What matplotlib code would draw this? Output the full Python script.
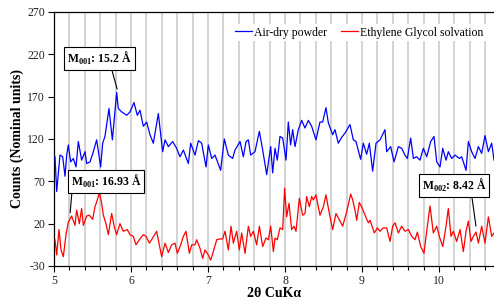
import numpy as np
import matplotlib
matplotlib.use("Agg")
import matplotlib.pyplot as plt
from matplotlib.ticker import MultipleLocator

plt.rcParams['font.family'] = ['Liberation Serif', 'DejaVu Serif']
plt.rcParams['mathtext.fontset'] = 'custom'
plt.rcParams['mathtext.rm'] = 'Liberation Serif'
plt.rcParams['mathtext.bf'] = 'Liberation Serif:bold'
plt.rcParams['axes.unicode_minus'] = False

# Air-dry powder (blue)
air_x = [5.013, 5.035, 5.078, 5.113, 5.143, 5.165, 5.186, 5.216, 5.251, 5.286,
         5.316, 5.359, 5.403, 5.424, 5.468, 5.511, 5.554, 5.606, 5.632, 5.662,
         5.714, 5.758, 5.814, 5.835, 5.879, 5.944, 5.987, 6.039, 6.082, 6.117,
         6.160, 6.203, 6.247, 6.290, 6.355, 6.411, 6.442, 6.485, 6.541, 6.593,
         6.636, 6.680, 6.745, 6.775, 6.831, 6.875, 6.918, 6.974, 7.004, 7.048,
         7.091, 7.164, 7.212, 7.264, 7.320, 7.351, 7.416, 7.459, 7.494, 7.524,
         7.554, 7.610, 7.667, 7.710, 7.762, 7.814, 7.840, 7.870, 7.900, 7.935,
         7.970, 8.013, 8.043, 8.073, 8.099, 8.130, 8.173, 8.216, 8.260, 8.303,
         8.346, 8.402, 8.454, 8.489, 8.532, 8.563, 8.619, 8.649, 8.692, 8.736,
         8.779, 8.844, 8.887, 8.922, 8.982, 9.017, 9.060, 9.095, 9.138, 9.182,
         9.234, 9.298, 9.320, 9.372, 9.416, 9.472, 9.515, 9.558, 9.589, 9.632,
         9.667, 9.710, 9.753, 9.797, 9.840, 9.892, 9.935, 9.970, 10.013, 10.048,
         10.091, 10.121, 10.165, 10.208, 10.264, 10.294, 10.351, 10.381, 10.424, 10.468,
         10.511, 10.554, 10.597, 10.641, 10.684, 10.714]
air_y = [99, 58, 101, 99, 76, 101, 113, 93, 97, 87,
         117, 95, 105, 91, 93, 105, 119, 87, 115, 123,
         156, 119, 175, 156, 152, 148, 152, 163, 148, 154,
         135, 140, 125, 115, 150, 105, 119, 111, 117, 109,
         99, 107, 91, 115, 101, 118, 115, 87, 113, 97,
         101, 83, 120, 101, 97, 107, 117, 99, 117, 119,
         101, 105, 129, 107, 78, 111, 80, 109, 95, 123,
         121, 95, 140, 113, 131, 111, 131, 142, 133, 142,
         135, 119, 140, 140, 157, 139, 125, 131, 115, 122,
         127, 137, 119, 117, 96, 115, 102, 115, 82, 115,
         119, 131, 105, 111, 93, 111, 109, 101, 97, 121,
         97, 99, 95, 109, 99, 117, 123, 93, 87, 109,
         95, 105, 97, 101, 97, 99, 83, 117, 105, 97,
         111, 103, 124, 105, 115, 95]

# Ethylene Glycol solvation (red)
eg_x = [5.013, 5.035, 5.065, 5.091, 5.121, 5.156, 5.186, 5.229, 5.273, 5.294,
        5.329, 5.359, 5.381, 5.424, 5.459, 5.502, 5.532, 5.563, 5.589, 5.619,
        5.641, 5.675, 5.706, 5.749, 5.784, 5.814, 5.857, 5.900, 5.952, 5.987,
        6.030, 6.065, 6.108, 6.160, 6.195, 6.238, 6.281, 6.333, 6.364, 6.398,
        6.442, 6.485, 6.528, 6.571, 6.602, 6.645, 6.680, 6.714, 6.758, 6.788,
        6.831, 6.853, 6.896, 6.931, 6.961, 7.004, 7.035, 7.069, 7.113, 7.156,
        7.190, 7.221, 7.264, 7.299, 7.329, 7.372, 7.407, 7.437, 7.481, 7.524,
        7.554, 7.589, 7.632, 7.667, 7.710, 7.753, 7.784, 7.814, 7.849, 7.870,
        7.900, 7.935, 7.970, 7.995, 8.021, 8.052, 8.086, 8.117, 8.143, 8.186,
        8.229, 8.260, 8.281, 8.316, 8.346, 8.368, 8.402, 8.454, 8.498, 8.532,
        8.576, 8.619, 8.662, 8.714, 8.749, 8.801, 8.853, 8.879, 8.909, 8.931,
        8.965, 8.995, 9.039, 9.082, 9.104, 9.160, 9.199, 9.234, 9.277, 9.320,
        9.364, 9.398, 9.429, 9.472, 9.515, 9.558, 9.602, 9.645, 9.688, 9.719,
        9.762, 9.805, 9.840, 9.883, 9.926, 9.970, 10.004, 10.048, 10.091, 10.121,
        10.156, 10.186, 10.229, 10.273, 10.316, 10.351, 10.381, 10.416, 10.446, 10.481,
        10.511, 10.554, 10.597, 10.641, 10.684, 10.714]
eg_y = [1, -17, 13, -11, -19, 7, 22, 29, 18, 36,
        20, 38, 18, 29, 30, 25, 40, 48, 57, 44,
        30, 20, 7, 32, 16, 7, 20, 11, 13, 7,
        5, -5, 1, 7, 5, -3, 3, 11, -3, -19,
        -3, -14, -5, -3, -15, -5, 5, 11, -15, -5,
        -5, 1, -9, -21, -11, -17, -23, -13, 1, 2,
        2, 11, -11, 17, -3, 11, -11, 9, -15, 17,
        5, 11, -5, 17, -7, 3, 1, 17, -13, 3,
        1, 15, 13, 62, 28, 44, 13, 17, 11, 50,
        30, 32, 52, 40, 52, 48, 54, 30, 40, 54,
        32, 13, 32, 23, 17, 34, 55, 48, 36, 24,
        45, 40, 30, 21, 24, 9, 15, 11, 15, 15,
        -1, 17, 21, 9, 17, 11, 13, 5, 1, 10,
        -7, -15, 11, 41, 9, 17, 5, -7, 17, 38,
        5, 11, -1, 13, -13, 11, 23, -1, 5, 10,
        -3, 17, -3, 28, 5, 9]

y_ticks = [-30, 20, 70, 120, 170, 220, 270]
x_ticks = [5, 6, 7, 8, 9, 10]

fig = plt.figure(figsize=(4.94, 3.01), dpi=100)
ax = fig.add_axes([0.1093, 0.1163, 0.8907, 0.8439])

ax.plot(air_x, air_y, color='#0000ff', lw=0.9, label='Air-dry powder', zorder=3)
ax.plot(eg_x, eg_y, color='#ff0000', lw=0.9, label='Ethylene Glycol solvation', zorder=3)

ax.set_xlim(5, 10.714)
ax.set_ylim(-30, 270)
ax.set_xticks(x_ticks)
ax.set_yticks(y_ticks)
ax.xaxis.set_minor_locator(MultipleLocator(0.2))
ax.grid(True, axis='x', which='both', color='#d0d0d0', lw=1.3, zorder=0)
ax.set_axisbelow(True)
ax.tick_params(axis='both', which='major', direction='out', length=4, width=0.8,
               labelsize=8.5, colors='black', pad=2.5)
ax.tick_params(axis='x', which='minor', direction='out', length=3, width=0.8)
for lab in ax.get_xticklabels() + ax.get_yticklabels():
    lab.set_color('#222222')
ax.spines['right'].set_visible(False)
for s in ['left', 'bottom', 'top']:
    ax.spines[s].set_linewidth(0.9)

ax.set_ylabel('Counts (Nominal units)', fontsize=10, fontweight='bold', labelpad=2)
ax.set_xlabel('2θ CuKα', fontsize=10, fontweight='bold', labelpad=0)

leg = ax.legend(loc='upper right', ncol=2, fontsize=8.5, frameon=True,
                facecolor='white', edgecolor='none', framealpha=1, fancybox=False,
                handlelength=1.4, handletextpad=0.2, columnspacing=1.2,
                borderpad=0.2, bbox_to_anchor=(0.995, 0.975))

box = dict(boxstyle='square,pad=0.25', fc='white', ec='black', lw=0.8)
ax.annotate(r'M$_{\mathbf{001}}$: 15.2 Å', xy=(5.82, 179), xytext=(5.59, 215),
            ha='center', va='center', fontsize=8.5, fontweight='bold', bbox=box,
            arrowprops=dict(arrowstyle='-', color='black', lw=0.8, relpos=(0.68, 0),
                            shrinkA=0, shrinkB=0), zorder=5)
ax.annotate(r'M$_{\mathbf{001}}$: 16.93 Å', xy=(5.21, 33), xytext=(5.675, 70),
            ha='center', va='center', fontsize=8.5, fontweight='bold', bbox=box,
            arrowprops=dict(arrowstyle='-', color='black', lw=0.8, relpos=(0.02, 0),
                            shrinkA=0, shrinkB=0), zorder=5)
ax.annotate(r'M$_{\mathbf{002}}$: 8.42 Å', xy=(10.48, 17), xytext=(10.195, 65),
            ha='center', va='center', fontsize=8.5, fontweight='bold', bbox=box,
            arrowprops=dict(arrowstyle='-', color='black', lw=0.8, relpos=(0.77, 0),
                            shrinkA=0, shrinkB=0), zorder=5)

fig.savefig('out.png', dpi=100)
